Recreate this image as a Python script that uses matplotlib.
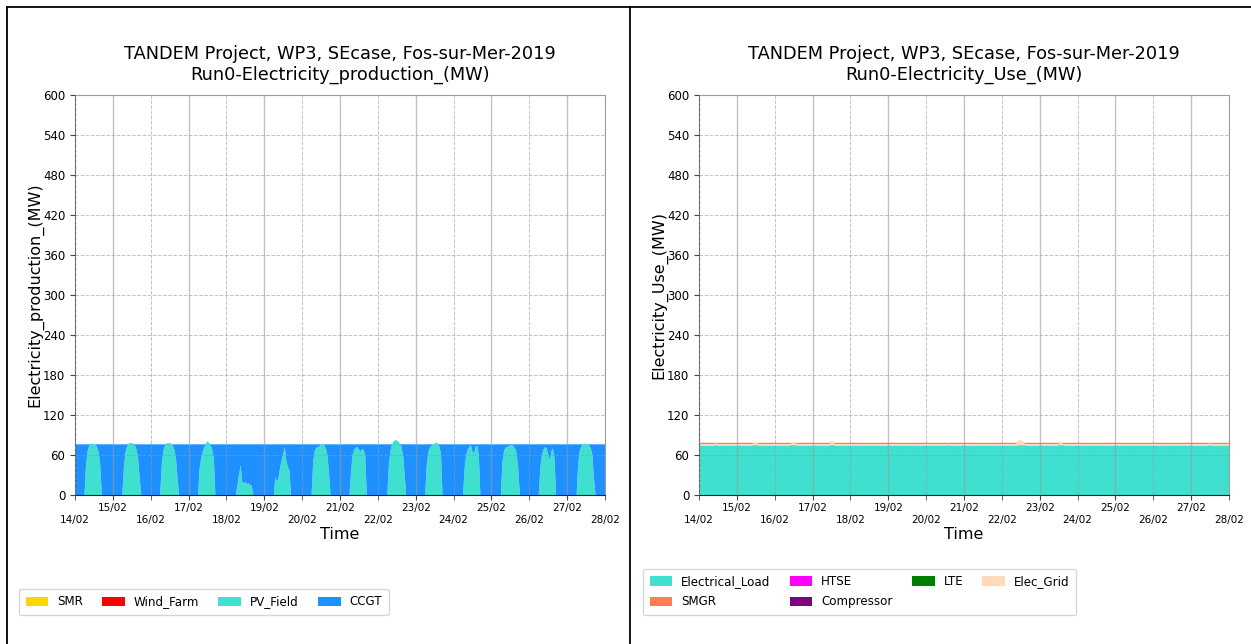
import numpy as np
import matplotlib
matplotlib.use("Agg")
import matplotlib.pyplot as plt
import matplotlib.dates as mdates
from matplotlib.patches import Patch
from matplotlib.lines import Line2D
import pandas as pd

# ---------------- data ----------------
title_top = "TANDEM Project, WP3, SEcase, Fos-sur-Mer-2019"
title_left = "Run0-Electricity_production_(MW)"
title_right = "Run0-Electricity_Use_(MW)"
ylabel_left = "Electricity_production_(MW)"
ylabel_right = "Electricity_Use_(MW)"

start_date = "2019-02-14"
end_date = "2019-02-28"

load_mw = 76.0  # constant electrical load / total production level

# PV_Field hourly output (MW) for hours 07..17 of each day, 14/02 .. 27/02 (zero otherwise)
pv_day_hours = [7, 8, 9, 10, 11, 12, 13, 14, 15, 16, 17]
pv_14 = [45, 66, 74, 77, 77, 76, 75, 72, 64, 45, 0]
pv_15 = [40, 64, 73, 77, 78, 78, 77, 74, 68, 55, 25]
pv_16 = [45, 66, 74, 77, 78, 78, 77, 74, 68, 55, 25]
pv_17 = [40, 55, 65, 72, 77, 81, 78, 74, 68, 55, 0]
pv_18 = [15, 30, 45, 20, 17, 20, 16, 18, 14, 15, 0]
pv_19 = [27, 20, 25, 40, 52, 62, 72, 50, 42, 36, 0]
pv_20 = [50, 66, 71, 72, 73, 76, 77, 75, 70, 60, 35]
pv_21 = [35, 60, 68, 71, 72, 68, 65, 69, 68, 60, 0]
pv_22 = [45, 66, 76, 81, 82, 82, 80, 77, 72, 60, 30]
pv_23 = [45, 64, 71, 74, 76, 77, 79, 77, 73, 62, 0]
pv_24 = [40, 60, 68, 72, 75, 65, 62, 72, 74, 60, 0]
pv_25 = [50, 66, 71, 72, 73, 74, 75, 73, 70, 62, 40]
pv_26 = [40, 60, 68, 72, 70, 60, 52, 65, 70, 55, 0]
pv_27 = [48, 66, 73, 76, 77, 77, 76, 74, 70, 60, 25]
pv_days = [pv_14, pv_15, pv_16, pv_17, pv_18, pv_19, pv_20,
           pv_21, pv_22, pv_23, pv_24, pv_25, pv_26, pv_27]

prod_labels = ["SMR", "Wind_Farm", "PV_Field", "CCGT"]
prod_colors = ["gold", "red", "turquoise", "dodgerblue"]
use_labels = ["Electrical_Load", "SMGR", "HTSE", "Compressor", "LTE", "Elec_Grid"]
use_colors = ["turquoise", "coral", "magenta", "purple", "green", "peachpuff"]

y_ticks = [0, 60, 120, 180, 240, 300, 360, 420, 480, 540, 600]

# ---------------- build series ----------------
times = pd.date_range(start_date, end_date, freq="h")
n = len(times)
pv = np.zeros(n)
for d, vals in enumerate(pv_days):
    for h, v in zip(pv_day_hours, vals):
        pv[d * 24 + h] = v
smr = np.zeros(n)
wind = np.zeros(n)
ccgt = np.clip(load_mw - pv, 0, None)
elec_load = np.full(n, load_mw)
smgr = np.zeros(n)
htse = np.zeros(n)
comp = np.zeros(n)
lte = np.zeros(n)
grid = np.clip(pv - load_mw, 0, None)

# ---------------- figure ----------------
fig = plt.figure(figsize=(12.51, 6.44), dpi=100)
W, H = 1251, 644

def make_axes(x0):
    return fig.add_axes([x0 / W, (H - 495) / H, 530 / W, 400 / H])

axL = make_axes(75)
axR = make_axes(699)

axL.stackplot(times, smr, wind, pv, ccgt, colors=prod_colors, labels=prod_labels)
polys = axR.stackplot(times, elec_load, smgr, htse, comp, lte, grid, colors=use_colors,
                      labels=use_labels)
# visible top edges of the thin SMGR / Elec_Grid layers
polys[1].set_edgecolor("coral")
polys[1].set_linewidth(1.6)
polys[1].set_zorder(2.1)
polys[5].set_edgecolor("peachpuff")
polys[5].set_linewidth(0.9)
polys[5].set_zorder(2.2)

for ax, sub, ylab in [(axL, title_left, ylabel_left), (axR, title_right, ylabel_right)]:
    ax.set_xlim(pd.Timestamp(start_date), pd.Timestamp(end_date))
    ax.set_ylim(0, 600)
    ax.set_yticks(y_ticks)
    ax.tick_params(axis="y", labelsize=8.5, length=3.5, color="#444444")
    ax.xaxis.set_major_locator(mdates.DayLocator(bymonthday=[15, 17, 19, 21, 23, 25, 27]))
    ax.xaxis.set_minor_locator(mdates.DayLocator(bymonthday=[14, 16, 18, 20, 22, 24, 26, 28]))
    ax.xaxis.set_major_formatter(mdates.DateFormatter("%d/%m"))
    ax.xaxis.set_minor_formatter(mdates.DateFormatter("%d/%m"))
    ax.tick_params(axis="x", which="major", labelsize=7.5, length=3.5, pad=2, color="#444444")
    ax.tick_params(axis="x", which="minor", labelsize=7.5, length=3.5, pad=11, color="#444444")
    ax.grid(which="major", axis="x", color="#999999", alpha=0.6, linestyle="-", linewidth=1.0)
    ax.grid(which="minor", axis="x", color="#999999", alpha=0.6, linestyle="--", linewidth=0.7)
    ax.grid(which="major", axis="y", color="#999999", alpha=0.6, linestyle="--", linewidth=0.7)
    ax.set_axisbelow(False)
    ax.spines["top"].set_color("#9a9a9a")
    ax.spines["right"].set_color("#9a9a9a")
    ax.spines["left"].set_color("#555555")
    ax.spines["bottom"].set_color("#222222")
    ax.set_title(title_top + "\n" + sub, fontsize=12.8, pad=11)
    ax.set_ylabel(ylab, fontsize=11.5, labelpad=0)
    ax.set_xlabel("Time", fontsize=11.5, labelpad=1)

# legends
leg_kw = dict(loc="lower left", ncol=4, fontsize=8.6, handlelength=1.9, handleheight=0.85,
              handletextpad=0.75, columnspacing=1.6, labelspacing=0.6, borderpad=0.55,
              frameon=True, borderaxespad=0)
legL_handles = [Patch(facecolor=c, label=l) for c, l in zip(prod_colors, prod_labels)]
fig.legend(handles=legL_handles, bbox_to_anchor=(19 / W, (H - 615) / H), **leg_kw)
legR_handles = [Patch(facecolor=c, label=l) for c, l in zip(use_colors, use_labels)]
fig.legend(handles=legR_handles, bbox_to_anchor=(643 / W, (H - 615) / H), **leg_kw)

# panel borders
fig.add_artist(Line2D([7 / W, 7 / W], [0, 1 - 7 / H], color="black", lw=1.3))
fig.add_artist(Line2D([7 / W, 1], [1 - 7 / H, 1 - 7 / H], color="black", lw=1.3))
fig.add_artist(Line2D([630 / W, 630 / W], [0, 1 - 7 / H], color="black", lw=1.3))

fig.savefig("out.png", dpi=100)
